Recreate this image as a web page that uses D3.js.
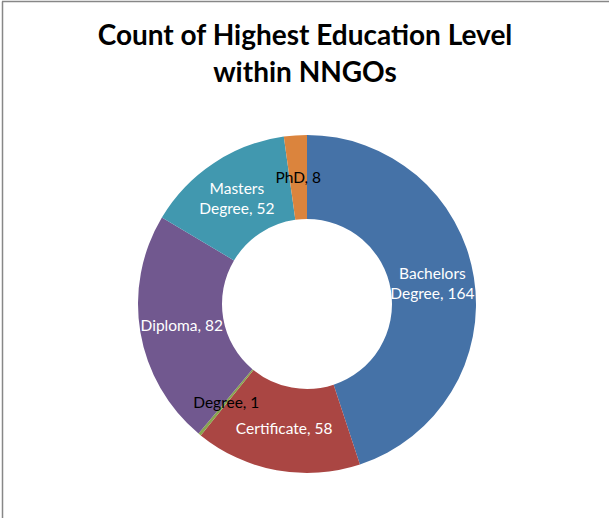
<!DOCTYPE html>
<html>
<head>
<meta charset="utf-8">
<script src="https://cdn.jsdelivr.net/npm/d3@7"></script>
<style>
  html, body { margin: 0; padding: 0; background: #fff; }
  svg { display: block; }
</style>
</head>
<body>
<svg id="chart" width="609" height="518"></svg>
<script>
const titleLines = ["Count of Highest Education Level", "within NNGOs"];
const categories = ["Bachelors Degree", "Certificate", "Degree", "Diploma", "Masters Degree", "PhD"];
const values = [164, 58, 1, 82, 52, 8];
const labelLines = [["Bachelors", "Degree, 164"], ["Certificate, 58"], ["Degree, 1"], ["Diploma, 82"], ["Masters", "Degree, 52"], ["PhD, 8"]];
const colors = ["#4572A7", "#AA4643", "#89A54E", "#71588F", "#4198AF", "#DB843D"];
const labelColors = ["#fff", "#fff", "#000", "#fff", "#fff", "#000"];

const data = categories.map((c, i) => ({ name: c, value: values[i], lines: labelLines[i] }));

const svg = d3.select("#chart");
const W = 609, H = 518;
svg.append("rect").attr("width", W).attr("height", H).attr("fill", "#fff");

// chart area border (left and top visible)
svg.append("line").attr("x1", 2.5).attr("y1", 1.5).attr("x2", 2.5).attr("y2", H).attr("stroke", "#878787").attr("stroke-width", 1.5);
svg.append("line").attr("x1", 2).attr("y1", 1.5).attr("x2", W).attr("y2", 1.5).attr("stroke", "#878787").attr("stroke-width", 1.5);

const font = "Lato, 'Open Sans', 'DejaVu Sans', sans-serif";

// title
const title = svg.append("text")
  .attr("text-anchor", "middle")
  .attr("font-family", font)
  .attr("font-weight", "bold")
  .attr("font-size", 28)
  .attr("fill", "#000");
title.selectAll("tspan").data(titleLines).join("tspan")
  .attr("x", 305)
  .attr("y", (d, i) => 45 + i * 37)
  .text(d => d);

// donut
const cx = 307, cy = 304, rOuter = 169, rInner = 85;
const pie = d3.pie().value(d => d.value).sort(null);
const arc = d3.arc().innerRadius(rInner).outerRadius(rOuter);
const g = svg.append("g").attr("transform", `translate(${cx},${cy})`);
const arcs = pie(data);

g.selectAll("path").data(arcs).join("path")
  .attr("d", arc)
  .attr("fill", (d, i) => colors[i]);

const lbl = g.selectAll("text.lbl").data(arcs).join("text")
  .attr("class", "lbl")
  .attr("text-anchor", "middle")
  .attr("font-family", font)
  .attr("font-size", 15.5)
  .attr("fill", (d, i) => labelColors[i])
  .attr("transform", d => `translate(${arc.centroid(d)})`);

lbl.each(function(d) {
  const n = d.data.lines.length;
  const lh = 20;
  d3.select(this).selectAll("tspan").data(d.data.lines).join("tspan")
    .attr("x", 0)
    .attr("y", (t, j) => (j - (n - 1) / 2) * lh)
    .attr("dy", "0.35em")
    .text(t => t);
});
</script>
</body>
</html>
